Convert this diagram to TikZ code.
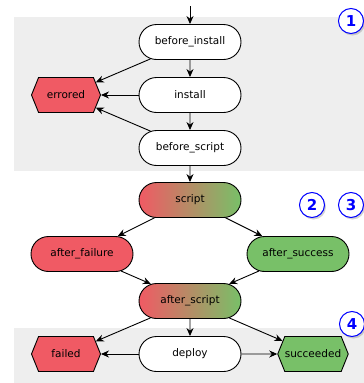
\documentclass[tikz,border=0pt]{standalone}
\usepackage{fontspec}
\setmainfont{DejaVu Sans}
\usetikzlibrary{arrows.meta,shapes.misc,shapes.symbols,shadows}

\definecolor{failred}{RGB}{240,90,100}
\definecolor{passgreen}{RGB}{120,192,104}
\definecolor{bandgray}{RGB}{238,238,238}

\tikzset{
    stage/.style={draw, rounded rectangle, fill=white, line width=0.9pt,
        minimum width=102pt, minimum height=35pt, inner sep=0pt,
        font=\fontsize{10.5}{12}\selectfont},
    state/.style={draw, signal, signal to=west and east, signal pointer angle=136,
        line width=0.9pt, minimum width=69pt, minimum height=35pt, inner sep=0pt,
        font=\fontsize{10.5}{12}\selectfont},
    mixed/.style={stage, left color=failred, right color=passgreen},
    step num/.style={draw=blue, circle, fill=white, line width=1pt,
        minimum size=25pt, inner sep=0pt, text=blue,
        font=\fontsize{15}{17}\selectfont\bfseries,
        drop shadow={shadow xshift=1.5pt, shadow yshift=-2pt, opacity=0.35}},
    flow/.style={draw, line width=0.9pt, -{Stealth[length=8pt,width=7pt]}}
}

\begin{document}
\begin{tikzpicture}[x=1pt, y=-1pt]
        \useasboundingbox (0,0) rectangle (364,383);
        % shaded phases
        \fill[bandgray] (14,17) rectangle (364,171);
        \fill[bandgray] (14,328) rectangle (364,383);

        \coordinate (start) at (190,6);
        \node[stage] (bi) at (190,42) {before\_install};
        \node[stage] (inst) at (190,95) {install};
        \node[stage] (bs) at (190,148) {before\_script};
        \node[state, fill=failred] (err) at (66,95) {errored};
        \node[mixed] (scr) at (190,200) {script};
        \node[stage, fill=failred] (af) at (82,254) {after\_failure};
        \node[stage, fill=passgreen] (as) at (298,254) {after\_success};
        \node[mixed] (asc) at (190,301) {after\_script};
        \node[state, fill=failred] (fail) at (66,354) {failed};
        \node[stage] (dep) at (190,354) {deploy};
        \node[state, fill=passgreen] (succ) at (313,354) {succeeded};

        \node[step num] (n1) at (351,21) {1};
        \node[step num] (n2) at (312,205) {2};
        \node[step num] (n3) at (351,205) {3};
        \node[step num] (n4) at (352,324) {4};

        \path[flow] (start) -- (bi);
        \path[flow] (bi) -- (inst);
        \path[flow] (inst) -- (bs);
        \path[flow] (bi) -- (err);
        \path[flow] (inst) -- (err);
        \path[flow] (bs) -- (err);
        \path[flow] (bs) -- (scr);
        \path[flow] (scr) -- (af);
        \path[flow] (scr) -- (as);
        \path[flow] (af) -- (asc);
        \path[flow] (as) -- (asc);
        \path[flow] (asc) -- (fail);
        \path[flow] (asc) -- (dep);
        \path[flow] (asc) -- (succ);
        \path[flow] (dep) -- (fail);
        \path[flow] (dep) -- (succ);
    \end{tikzpicture}
\end{document}
